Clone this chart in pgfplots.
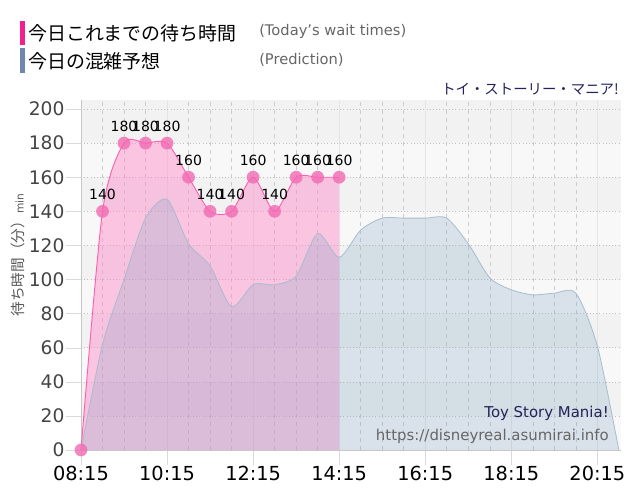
\documentclass[border=0pt]{standalone}
\usepackage{pgfplots}
\pgfplotsset{compat=1.18}
\usepackage{fontspec}
\setmainfont{DejaVu Sans}
\newfontfamily\jp{Noto Sans CJK JP}
\definecolor{pinkline}{HTML}{FF5FAF}
\definecolor{pinkfill}{HTML}{FF88C8}
\definecolor{pinkmark}{HTML}{F26AB2}
\definecolor{predfill}{RGB}{120,160,190}
\definecolor{predline}{HTML}{A8BCCC}
\definecolor{bgA}{HTML}{F8F8F8}
\definecolor{bgB}{HTML}{F2F2F2}
\definecolor{legpink}{HTML}{F0208C}
\definecolor{legblue}{HTML}{6F86AE}
\definecolor{navy}{HTML}{23235A}
\definecolor{ticklab}{HTML}{444444}

\pgfplotstableread{
x y
8.25 0
8.75 140
9.25 180
9.75 180
10.25 180
10.75 160
11.25 140
11.75 140
12.25 160
12.75 140
13.25 160
13.75 160
14.25 160
}\actual

\pgfplotstableread{
x y
8.75 140
9.25 180
9.75 180
10.25 180
10.75 160
11.25 140
11.75 140
12.25 160
12.75 140
13.25 160
13.75 160
14.25 160
}\actuallab

\pgfplotstableread{
x y
8.25 0
8.75 62
9.25 100
9.75 136
10.25 147
10.75 121
11.25 108
11.75 84
12.25 97
12.75 97
13.25 102
13.75 127
14.25 113
14.75 129
15.25 136
15.75 136
16.25 136
16.75 136
17.25 121
17.75 101
18.25 94
18.75 91
19.25 92
19.75 92
20.25 61
20.75 0
}\pred

\begin{document}
\begin{tikzpicture}
\path (0,0) rectangle (480pt,375pt);
\begin{axis}[
  set layers,
  at={(60.75pt,37.5pt)}, anchor=south west,
  scale only axis, width=405pt, height=262.5pt,
  xmin=8.25, xmax=20.8, ymin=0, ymax=205.3,
  clip=false,
  axis x line*=bottom, axis y line*=left,
  x axis line style={-}, y axis line style={-},
  axis line style={draw=black!22},
  xtick={8.25,10.25,12.25,14.25,16.25,18.25,20.25},
  xticklabels={08:15,10:15,12:15,14:15,16:15,18:15,20:15},
  minor x tick num=3,
  ytick={0,20,...,200},
  tick align=outside,
  major tick length=11.25pt,
  minor tick length=0pt,
  tick style={draw=black!15},
  xmajorgrids, xminorgrids, ymajorgrids,
  major x grid style={draw=black!10, solid},
  minor x grid style={draw=black!20, dashed},
  major y grid style={draw=black!25, dotted},
  /pgf/number format/assume math mode=true,
  yticklabel style={font=\fontsize{14}{14}\selectfont, text=ticklab, inner sep=1pt},
  xticklabel style={font=\fontsize{14.5}{14.5}\selectfont, text=black, inner sep=1pt},
]
\begin{pgfonlayer}{axis background}
\fill[bgA] (axis cs:8.25,0) rectangle (axis cs:20.8,205.3);
\fill[bgB] (axis cs:8.25,20) rectangle (axis cs:20.8,40);
\fill[bgB] (axis cs:8.25,60) rectangle (axis cs:20.8,80);
\fill[bgB] (axis cs:8.25,100) rectangle (axis cs:20.8,120);
\fill[bgB] (axis cs:8.25,140) rectangle (axis cs:20.8,160);
\fill[bgB] (axis cs:8.25,180) rectangle (axis cs:20.8,205.3);
\end{pgfonlayer}
% actual wait times area
\addplot[draw=none, fill=pinkfill, fill opacity=0.45, smooth, tension=0.45] table[x=x,y=y] {\actual} \closedcycle;
\addplot[pinkline, line width=0.7pt, smooth, tension=0.45] table[x=x,y=y] {\actual};
% prediction
\addplot[draw=none, fill=predfill, fill opacity=0.24, smooth, tension=0.45] table[x=x,y=y] {\pred} \closedcycle;
\addplot[predline, line width=0.6pt, smooth, tension=0.45] table[x=x,y=y] {\pred};
% markers
\addplot[pinkmark, only marks, mark=*, mark size=4.8pt, mark options={solid, fill=pinkmark, draw=pinkmark, fill opacity=0.8, draw opacity=0}] table[x=x,y=y] {\actual};
\addplot[draw=none, mark=none, nodes near coords,
  every node near coord/.append style={anchor=center, yshift=12.5pt, font=\fontsize{10.5}{10.5}\selectfont, text=black, inner sep=0pt}]
  table[x=x,y=y] {\actuallab};
\end{axis}
\begin{scope}[x=0.75pt, y=-0.75pt, shift={(0pt,375pt)}]
\fill[legpink] (20,21) rectangle (25,45);
\node[anchor=west, inner sep=0pt] at (28,33) {\jp\fontsize{14.2}{15}\selectfont 今日これまでの待ち時間};
\node[anchor=west, inner sep=0pt, text=black!60] at (259,31) {\fontsize{11}{11}\selectfont (Today's wait times)};
\fill[legblue] (20,48) rectangle (25,73);
\node[anchor=west, inner sep=0pt] at (28,61) {\jp\fontsize{14.2}{15}\selectfont 今日の混雑予想};
\node[anchor=west, inner sep=0pt, text=black!60] at (259,60) {\fontsize{11}{11}\selectfont (Prediction)};
\node[anchor=east, inner sep=0pt, text=navy] at (619,89) {\jp\fontsize{10.8}{11}\selectfont トイ・ストーリー・マニア!};
\node[anchor=east, inner sep=0pt, text=navy] at (609,413) {\fontsize{11.2}{11}\selectfont Toy Story Mania!};
\node[anchor=east, inner sep=0pt, text=black!60] at (609,436) {\fontsize{11.2}{11}\selectfont https://disneyreal.asumirai.info};
\node[rotate=90, inner sep=0pt, text=black!65] at (18,255) {{\jp\fontsize{11}{11}\selectfont 待ち時間（分）}{\fontsize{8}{8}\selectfont min}};
\end{scope}
\end{tikzpicture}
\end{document}
